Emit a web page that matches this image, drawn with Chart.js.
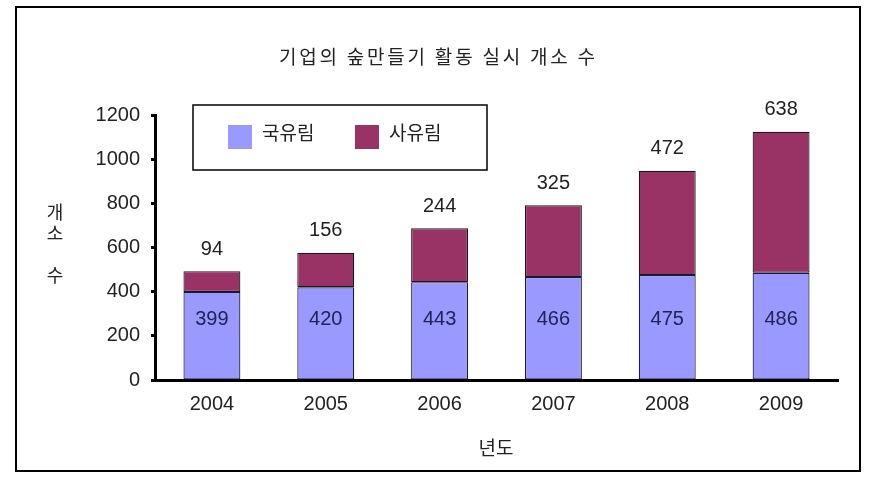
<!DOCTYPE html>
<html><head><meta charset="utf-8">
<script src="https://cdn.jsdelivr.net/npm/chart.js@4"></script>
<style>html,body{margin:0;padding:0;background:#fff;}#wrap{width:872px;height:482px;}</style>
</head><body><div id="wrap"><canvas id="c" width="872" height="482"></canvas></div>
<script>
const years = ['2004','2005','2006','2007','2008','2009'];
const national = [399, 420, 443, 466, 475, 486];
const privateF = [94, 156, 244, 325, 472, 638];
const yTicks = [0, 200, 400, 600, 800, 1000, 1200];
const seriesNames = ['국유림', '사유림'];
const chartTitle = '기업의 숲만들기 활동 실시 개소 수';
const yTitle = ['개', '소', ' ', '수'];
const xTitle = '년도';

const COL_N = '#9999FF', COL_P = '#993366';
const KR = '"Noto Sans CJK KR", "Noto Sans", sans-serif';
const NUM = '"Liberation Sans", Arial, sans-serif';

const deco = {
  id: 'deco',
  afterDraw(chart) {
    const ctx = chart.ctx, ys = chart.scales.y;
    ctx.save();
    // outer frame
    ctx.strokeStyle = '#000'; ctx.lineWidth = 2;
    ctx.strokeRect(16, 7, 844, 464);
    // title (spread to the reference width)
    ctx.fillStyle = '#222'; ctx.textBaseline = 'middle';
    ctx.font = '19px ' + KR;
    const chars = Array.from(chartTitle);
    const natural = ctx.measureText(chartTitle).width;
    const W = 316;
    const extra = Math.max(0, (W - natural) / (chars.length - 1));
    let x = 437 - W / 2;
    ctx.textAlign = 'left';
    chars.forEach(ch => { ctx.fillText(ch, x, 57); x += ctx.measureText(ch).width + extra; });
    // y title
    ctx.textAlign = 'center';
    ctx.font = '18px ' + KR;
    yTitle.forEach((ch, i) => ctx.fillText(ch, 55, 212 + i * 21));
    // x title
    ctx.font = '19px ' + KR;
    ctx.fillText(xTitle, 496, 448);
    // legend
    ctx.lineWidth = 1.5; ctx.strokeStyle = '#000';
    ctx.strokeRect(193, 105, 294, 65);
    const items = [[228, COL_N], [355, COL_P]];
    ctx.textAlign = 'left'; ctx.font = '19px ' + KR;
    items.forEach(([lx, c], i) => {
      ctx.fillStyle = c; ctx.fillRect(lx, 125, 24, 24);
      ctx.fillStyle = '#222'; ctx.fillText(seriesNames[i], lx + 34, 133);
    });
    // data labels
    ctx.textAlign = 'center'; ctx.font = '20px ' + NUM;
    const m0 = chart.getDatasetMeta(0), m1 = chart.getDatasetMeta(1);
    m0.data.forEach((bar, i) => {
      ctx.fillStyle = '#222255';
      ctx.fillText(String(national[i]), bar.x, ys.getPixelForValue(275));
    });
    m1.data.forEach((bar, i) => {
      ctx.fillStyle = '#222';
      ctx.fillText(String(privateF[i]), bar.x, bar.y - 22);
    });
    ctx.restore();
  }
};

new Chart(document.getElementById('c'), {
  type: 'bar',
  data: {
    labels: years,
    datasets: [
      { label: seriesNames[0], data: national, backgroundColor: COL_N, borderColor: '#1a1a40', borderWidth: 1.2, borderSkipped: false },
      { label: seriesNames[1], data: privateF, backgroundColor: COL_P, borderColor: '#1a1a1a', borderWidth: 1.2, borderSkipped: false }
    ]
  },
  options: {
    responsive: false, animation: false,
    devicePixelRatio: 1,
    layout: { padding: { top: 115, right: 34, left: 0, bottom: 0 } },
    categoryPercentage: 1, barPercentage: 0.5,
    plugins: { legend: { display: false }, tooltip: { enabled: false }, title: { display: false } },
    scales: {
      x: {
        stacked: true,
        afterFit(s) { s.height = 102; },
        grid: { display: false, drawTicks: false },
        border: { color: '#000', width: 3 },
        ticks: { color: '#222', font: { family: NUM, size: 20 }, padding: 12 }
      },
      y: {
        stacked: true, min: 0, max: 1200,
        afterFit(s) { s.width = 155; },
        afterBuildTicks(s) { s.ticks = yTicks.map(v => ({ value: v })); },
        grid: { drawOnChartArea: false, drawTicks: true, tickLength: 4, tickWidth: 3, tickColor: '#000' },
        border: { color: '#000', width: 3 },
        ticks: { color: '#222', font: { family: NUM, size: 20 }, padding: 11, callback: v => String(v) }
      }
    }
  },
  plugins: [deco]
});
</script></body></html>
